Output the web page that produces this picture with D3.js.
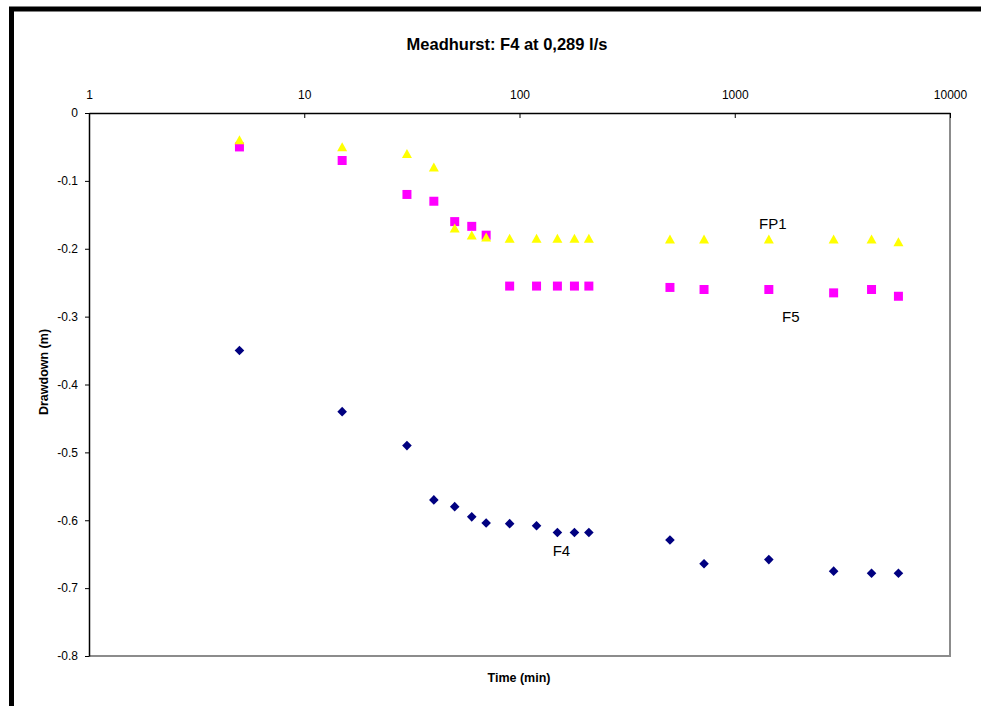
<!DOCTYPE html>
<html>
<head>
<meta charset="utf-8">
<script src="https://cdn.jsdelivr.net/npm/d3@7"></script>
<style>
  html, body { margin: 0; padding: 0; background: #fff; }
  svg { display: block; font-family: "Liberation Sans", Arial, sans-serif; }
</style>
</head>
<body>
<svg id="chart" width="981" height="706"></svg>
<script>
// Pumping test at Meadhurst: drawdown in observation wells vs elapsed time
const times = [5, 15, 30, 40, 50, 60, 70, 90, 120, 150, 180, 210, 500, 720, 1440, 2880, 4320, 5760];
const f4  = [-0.35, -0.44, -0.49, -0.57, -0.58, -0.595, -0.604, -0.605, -0.608, -0.618, -0.618, -0.618, -0.629, -0.664, -0.658, -0.675, -0.678, -0.678];
const f5  = [-0.05, -0.07, -0.12, -0.13, -0.16, -0.167, -0.18, -0.255, -0.255, -0.255, -0.255, -0.255, -0.257, -0.26, -0.26, -0.265, -0.26, -0.27];
const fp1 = [-0.04, -0.05, -0.06, -0.08, -0.17, -0.18, -0.183, -0.185, -0.185, -0.185, -0.185, -0.185, -0.186, -0.186, -0.186, -0.186, -0.186, -0.19];
const xTicks = [1, 10, 100, 1000, 10000];
const yTicks = [0, -0.1, -0.2, -0.3, -0.4, -0.5, -0.6, -0.7, -0.8];

const svg = d3.select("#chart");
const plot = { left: 89, top: 113, right: 950, bottom: 656 };

const x = d3.scaleLog().domain([1, 10000]).range([plot.left, plot.right]);
const y = d3.scaleLinear().domain([-0.8, 0]).range([plot.bottom, plot.top]);

// outer chart frame (thick black, running off the page right and bottom)
svg.append("rect")
  .attr("x", 11.5).attr("y", 9).attr("width", 1000).attr("height", 800)
  .attr("fill", "#fff").attr("stroke", "#000").attr("stroke-width", 5);

// plot area: grey right and bottom edges
svg.append("path")
  .attr("d", `M${plot.right},${plot.top}V${plot.bottom}H${plot.left}`)
  .attr("fill", "none").attr("stroke", "#8c8c8c").attr("stroke-width", 2);

// title
svg.append("text")
  .attr("x", 507).attr("y", 50)
  .attr("text-anchor", "middle")
  .attr("font-size", "16.5px").attr("font-weight", "bold")
  .text("Meadhurst: F4 at 0,289 l/s");

// x axis along the top (y = 0), ticks pointing down into the plot
const xAxis = d3.axisTop(x)
  .tickValues(xTicks)
  .tickFormat(d3.format("d"))
  .tickSizeInner(-5).tickSizeOuter(0).tickPadding(0);
const gx = svg.append("g")
  .attr("transform", `translate(0,${plot.top})`)
  .call(xAxis);
gx.select(".domain").attr("stroke", "#000").attr("stroke-width", 1.5);
gx.selectAll(".tick line").attr("stroke", "#000");
gx.selectAll(".tick text")
  .attr("y", -14)
  .attr("font-size", "12px").attr("font-family", "Liberation Sans, Arial, sans-serif")
  .attr("fill", "#000");

// y axis on the left
const yAxis = d3.axisLeft(y)
  .tickValues(yTicks)
  .tickFormat(d => d === 0 ? "0" : d3.format(".1f")(d).replace("−", "-"))
  .tickSizeInner(4).tickSizeOuter(0).tickPadding(7);
const gy = svg.append("g")
  .attr("transform", `translate(${plot.left},0)`)
  .call(yAxis);
gy.select(".domain").attr("stroke", "#000").attr("stroke-width", 1.5);
gy.selectAll(".tick line").attr("stroke", "#000");
gy.selectAll(".tick text")
  .attr("font-size", "12px").attr("font-family", "Liberation Sans, Arial, sans-serif")
  .attr("fill", "#000");

// axis titles
svg.append("text")
  .attr("x", 519).attr("y", 681.5)
  .attr("text-anchor", "middle")
  .attr("font-size", "12.5px").attr("font-weight", "bold")
  .text("Time (min)");
svg.append("text")
  .attr("transform", "translate(47.5,372) rotate(-90)")
  .attr("text-anchor", "middle")
  .attr("font-size", "12.5px").attr("font-weight", "bold")
  .text("Drawdown (m)");

// marker shapes
const shapes = {
  diamond: "M0,-4.8L4.8,0L0,4.8L-4.8,0Z",
  square: "M-4.5,-4.5H4.5V4.5H-4.5Z",
  triangle: "M0,-4.8L5,4.2H-5Z"
};

const series = [
  { name: "F5",  values: f5,  shape: "square",   color: "#ff00ff" },
  { name: "FP1", values: fp1, shape: "triangle", color: "#ffff00" },
  { name: "F4",  values: f4,  shape: "diamond",  color: "#000080" }
];

series.forEach(s => {
  svg.append("g").selectAll("path")
    .data(times.map((t, i) => [t, s.values[i]]))
    .join("path")
    .attr("d", shapes[s.shape])
    .attr("transform", d => `translate(${x(d[0])},${y(d[1])})`)
    .attr("fill", s.color);
});

// series labels, placed next to a point of each series
const labels = [
  { text: "FP1", t: 1440, v: fp1[14], dx: 4,  dy: -10 },
  { text: "F5",  t: 1440, v: f5[14],  dx: 22, dy: 33 },
  { text: "F4",  t: 150,  v: f4[9],   dx: 4,  dy: 24 }
];
svg.append("g").selectAll("text")
  .data(labels)
  .join("text")
  .attr("x", d => x(d.t) + d.dx)
  .attr("y", d => y(d.v) + d.dy)
  .attr("text-anchor", "middle")
  .attr("font-size", "15px")
  .attr("fill", "#000")
  .text(d => d.text);
</script>
</body>
</html>
